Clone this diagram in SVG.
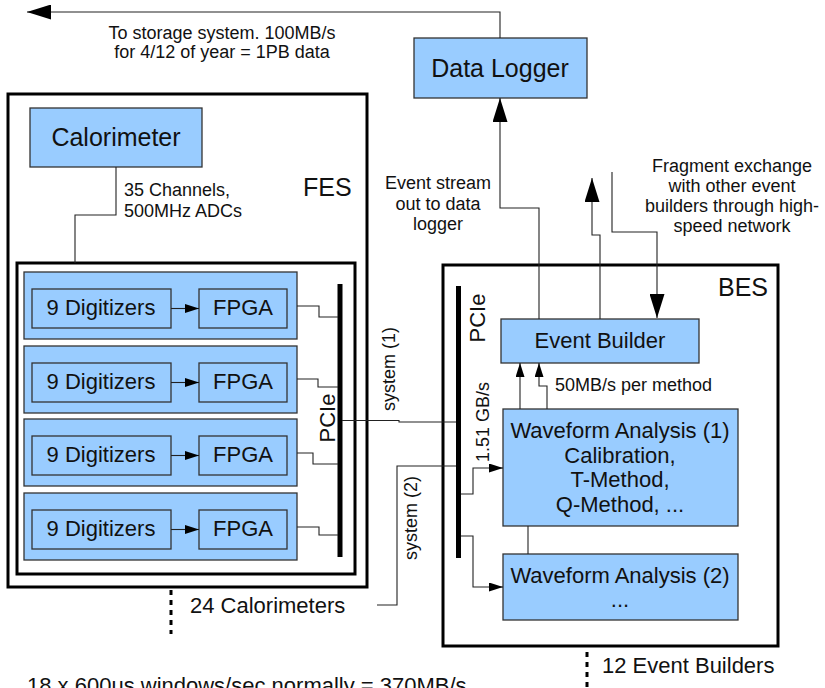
<svg xmlns="http://www.w3.org/2000/svg" width="825" height="688" viewBox="0 0 825 688">
  <defs>
    <marker id="headBig" markerUnits="userSpaceOnUse" markerWidth="24" markerHeight="15" refX="24" refY="7.5" orient="auto">
      <path d="M0,0 L24,7.5 L0,15 z" fill="#000"/>
    </marker>
    <marker id="headSmall" markerUnits="userSpaceOnUse" markerWidth="14" markerHeight="9" refX="14" refY="4.5" orient="auto">
      <path d="M0,0 L14,4.5 L0,9 z" fill="#000"/>
    </marker>
    <style>
      text { font-family: "Liberation Sans", Arial, sans-serif; fill: #111; }
      .box { fill: #99ccff; stroke: #333; stroke-width: 1.3; }
      .frame { fill: none; stroke: #000; stroke-width: 3; }
      .bus { fill: #000; }
      .wire { fill: none; stroke: #222; stroke-width: 1.1; }
      .dash { fill: none; stroke: #000; stroke-width: 3; stroke-dasharray: 5 5; }
      .t18 { font-size: 18px; }
      .t22 { font-size: 22px; }
      .t25 { font-size: 25px; }
      .mid { text-anchor: middle; }
    </style>
  </defs>

  <!-- front-end system frame -->
  <g id="fes">
    <rect class="frame" x="8" y="94" width="359" height="493" fill="#fff"/>
    <text class="t25" x="303" y="196">FES</text>
    <rect class="frame" x="17" y="263" width="338" height="311"/>
  </g>

  <!-- back-end system frame -->
  <g id="bes">
    <rect class="frame" x="443" y="265" width="335" height="381"/>
    <text class="t25" x="718" y="296">BES</text>
  </g>

  <g id="calorimeter">
    <rect class="box" x="30" y="108" width="172" height="59"/>
    <text class="t25 mid" x="116" y="146">Calorimeter</text>
  </g>

  <g id="data-logger">
    <rect class="box" x="414" y="38" width="173" height="60"/>
    <text class="t25 mid" x="500" y="77">Data Logger</text>
  </g>

  <!-- digitizer boards -->
  <g id="board1">
    <rect class="box" x="24" y="272" width="273" height="67"/>
    <rect class="box" x="32" y="289" width="139" height="39"/>
    <text class="t22 mid" x="101" y="315">9 Digitizers</text>
    <rect class="box" x="199" y="289" width="88" height="39"/>
    <text class="t22 mid" x="243" y="315">FPGA</text>
    <line class="wire" x1="171" y1="308.5" x2="199" y2="308.5" marker-end="url(#headSmall)"/>
  </g>
  <g id="board2">
    <rect class="box" x="24" y="346" width="273" height="67"/>
    <rect class="box" x="32" y="363" width="139" height="39"/>
    <text class="t22 mid" x="101" y="389">9 Digitizers</text>
    <rect class="box" x="199" y="363" width="88" height="39"/>
    <text class="t22 mid" x="243" y="389">FPGA</text>
    <line class="wire" x1="171" y1="382.5" x2="199" y2="382.5" marker-end="url(#headSmall)"/>
  </g>
  <g id="board3">
    <rect class="box" x="24" y="419" width="273" height="67"/>
    <rect class="box" x="32" y="436" width="139" height="39"/>
    <text class="t22 mid" x="101" y="462">9 Digitizers</text>
    <rect class="box" x="199" y="436" width="88" height="39"/>
    <text class="t22 mid" x="243" y="462">FPGA</text>
    <line class="wire" x1="171" y1="455.5" x2="199" y2="455.5" marker-end="url(#headSmall)"/>
  </g>
  <g id="board4">
    <rect class="box" x="24" y="493" width="273" height="67"/>
    <rect class="box" x="32" y="510" width="139" height="39"/>
    <text class="t22 mid" x="101" y="536">9 Digitizers</text>
    <rect class="box" x="199" y="510" width="88" height="39"/>
    <text class="t22 mid" x="243" y="536">FPGA</text>
    <line class="wire" x1="171" y1="529.5" x2="199" y2="529.5" marker-end="url(#headSmall)"/>
  </g>

  <!-- PCIe buses -->
  <g id="fes-pcie">
    <rect class="bus" x="337.5" y="284" width="5" height="273"/>
    <text class="t22 mid" transform="translate(335,418) rotate(-90)">PCIe</text>
  </g>
  <g id="bes-pcie">
    <rect class="bus" x="456" y="286" width="5" height="272"/>
    <text class="t22 mid" transform="translate(485,318) rotate(-90)">PCIe</text>
  </g>

  <g id="event-builder">
    <rect class="box" x="501" y="319" width="198" height="44"/>
    <text class="t22 mid" x="600" y="348">Event Builder</text>
  </g>

  <g id="waveform-1">
    <rect class="box" x="503" y="409" width="235" height="117"/>
    <text class="t22 mid" x="620" y="438">Waveform Analysis (1)</text>
    <text class="t22 mid" x="620" y="463">Calibration,</text>
    <text class="t22 mid" x="620" y="487">T-Method,</text>
    <text class="t22 mid" x="620" y="512">Q-Method, ...</text>
  </g>

  <g id="waveform-2">
    <rect class="box" x="503" y="554" width="235" height="66"/>
    <text class="t22 mid" x="620" y="583">Waveform Analysis (2)</text>
    <text class="t22 mid" x="620" y="607">...</text>
  </g>

  <!-- connectors -->
  <g id="connectors">
    <polyline class="wire" points="500,38 500,12 27,12" marker-end="url(#headBig)"/>
    <polyline class="wire" points="116,167 116,215 75,215 75,263"/>
    <polyline class="wire" points="297,306 319,306 319,317 338,317"/>
    <polyline class="wire" points="297,379 318,379 318,387 338,387"/>
    <polyline class="wire" points="297,453 313,453 313,464 338,464"/>
    <polyline class="wire" points="297,527 319,527 319,535 338,535"/>
    <polyline class="wire" points="342,420.5 399,420.5 399,422 456,422"/>
    <polyline class="wire" points="456,466 397,466 397,605 377,605"/>
    <polyline class="wire" points="461,494 473,494 473,468 503,468" marker-end="url(#headSmall)"/>
    <polyline class="wire" points="461,536 473,536 473,587 503,587" marker-end="url(#headSmall)"/>
    <line class="wire" x1="528" y1="526" x2="528" y2="554"/>
    <line class="wire" x1="520" y1="409" x2="520" y2="363" marker-end="url(#headSmall)"/>
    <polyline class="wire" points="547,409 547,386 539,386 539,363" marker-end="url(#headSmall)"/>
    <polyline class="wire" points="539,319 539,208 500,208 500,98" marker-end="url(#headBig)"/>
    <polyline class="wire" points="600,319 600,235 592,235 592,178" marker-end="url(#headBig)"/>
    <polyline class="wire" points="612,172 612,232 657,232 657,318" marker-end="url(#headBig)"/>
    <line class="dash" x1="171" y1="590" x2="171" y2="634"/>
    <line class="dash" x1="587" y1="652" x2="587" y2="688"/>
  </g>

  <!-- labels -->
  <g id="labels">
    <text class="t18 mid" x="222" y="39">To storage system. 100MB/s</text>
    <text class="t18 mid" x="222" y="58">for 4/12 of year = 1PB data</text>
    <text class="t18" x="124" y="196">35 Channels,</text>
    <text class="t18" x="124" y="217">500MHz ADCs</text>
    <text class="t18 mid" x="438" y="189">Event stream</text>
    <text class="t18 mid" x="438" y="210">out to data</text>
    <text class="t18 mid" x="438" y="230">logger</text>
    <text class="t18 mid" x="732" y="172">Fragment exchange</text>
    <text class="t18 mid" x="732" y="192">with other event</text>
    <text class="t18 mid" x="732" y="212">builders through high-</text>
    <text class="t18 mid" x="732" y="232">speed network</text>
    <text class="t18" x="555" y="391">50MB/s per method</text>
    <text class="t18 mid" transform="translate(395,369) rotate(-90)">system (1)</text>
    <text class="t18 mid" transform="translate(417,518) rotate(-90)">system (2)</text>
    <text class="t18 mid" transform="translate(489,422) rotate(-90)">1.51 GB/s</text>
    <text class="t22" x="190" y="613">24 Calorimeters</text>
    <text class="t22" x="602" y="673">12 Event Builders</text>
    <text class="t22" x="27" y="693">18 x 600us windows/sec normally = 370MB/s</text>
  </g>
</svg>
